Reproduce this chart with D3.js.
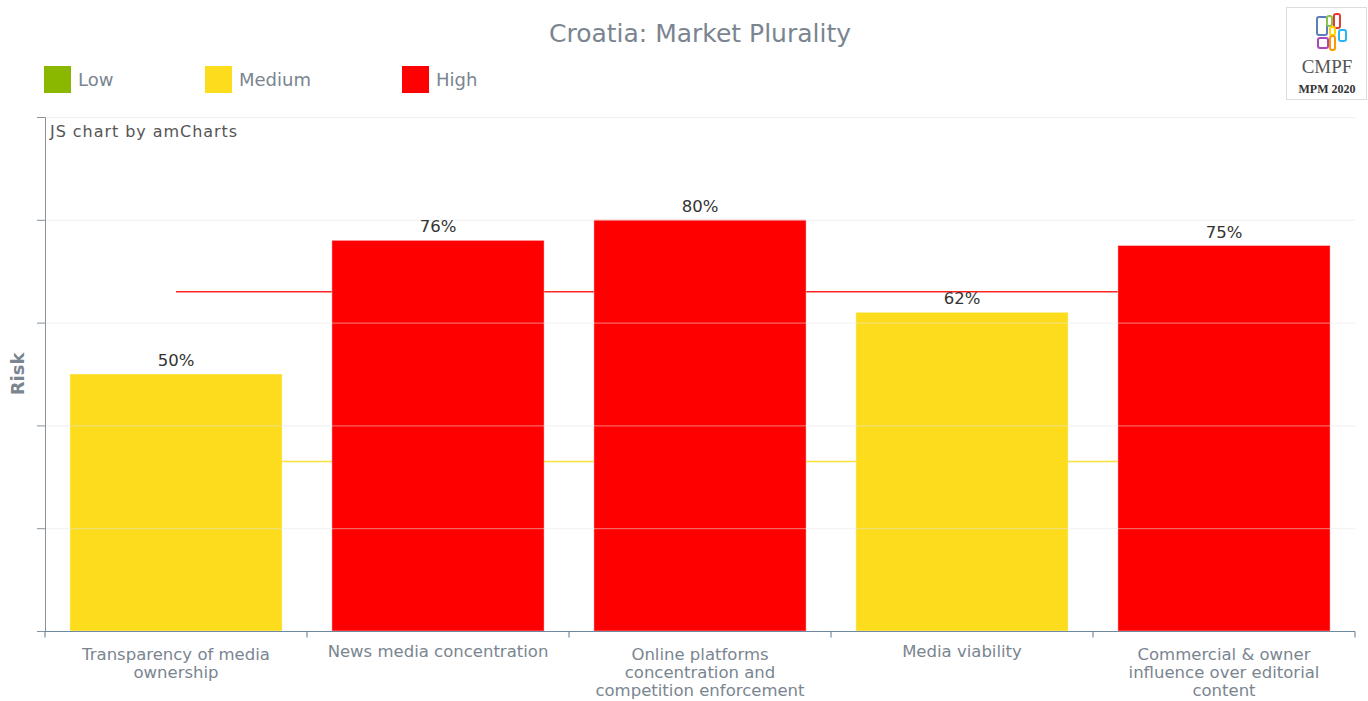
<!DOCTYPE html>
<html><head><meta charset="utf-8">
<script src="https://cdn.jsdelivr.net/npm/d3@7"></script>
<style>body{margin:0;background:#fff;overflow:hidden}</style>
</head><body><svg id="c" width="1368" height="701"></svg>
<script>
const categories = [
  ["Transparency of media", "ownership"],
  ["News media concentration"],
  ["Online platforms", "concentration and", "competition enforcement"],
  ["Media viability"],
  ["Commercial & owner", "influence over editorial", "content"]
];
const values = [50, 76, 80, 62, 75];
const levels = ["Medium", "High", "High", "Medium", "High"];
const legendLabels = ["Low", "Medium", "High"];
const thresholds = [{name: "High", value: 66}, {name: "Medium", value: 33}];
const yTicks = [0, 20, 40, 60, 80, 100];

const colors = {Low: "#8ab800", Medium: "#fcdc1c", High: "#ff0000"};
const svg = d3.select("#c");
const M = {l: 45, r: 1355, t: 117, b: 631};
const x = d3.scaleBand().domain(d3.range(values.length)).range([M.l, M.r]).paddingInner(0.19).paddingOuter(0.095);
const xb = d3.scaleBand().domain(d3.range(values.length)).range([M.l, M.r]);
const y = d3.scaleLinear().domain([0, 100]).range([M.b, M.t]);
const gray = "#7a8590";
const F = "DejaVu Sans";

// title
svg.append("text").attr("x", 700).attr("y", 42).attr("text-anchor", "middle")
  .attr("font-family", F).attr("font-size", 25).attr("fill", gray).text("Croatia: Market Plurality");

// legend
const lx = [44, 205, 402];
legendLabels.forEach((l, i) => {
  svg.append("rect").attr("x", lx[i]).attr("y", 66).attr("width", 27).attr("height", 27).attr("fill", colors[l]);
  svg.append("text").attr("x", lx[i] + 34).attr("y", 86).attr("font-family", F).attr("font-size", 18)
    .attr("fill", gray).text(l);
});

// logo
const lg = svg.append("g");
lg.append("rect").attr("x", 1286.5).attr("y", 7.5).attr("width", 80).attr("height", 92).attr("fill", "#fff").attr("stroke", "#ddd");
[["#5b7fb8",1317,17,10,18],["#8bc34a",1327,16,5,10],["#e53935",1334,14,6,14],["#ffd600",1330,27,5,8],["#29b6f6",1339,30,7,11],["#ab47bc",1318,38,10,10],["#ff9800",1330,36,5,14]]
  .forEach(d => lg.append("rect").attr("x", d[1]).attr("y", d[2]).attr("width", d[3]).attr("height", d[4]).attr("rx", 2)
    .attr("fill", "none").attr("stroke", d[0]).attr("stroke-width", 2));
lg.append("text").attr("x", 1327).attr("y", 73).attr("text-anchor", "middle").attr("font-family", "Liberation Serif")
  .attr("font-size", 19).attr("fill", "#555").text("CMPF");
lg.append("text").attr("x", 1327).attr("y", 93).attr("text-anchor", "middle").attr("font-family", "Liberation Serif")
  .attr("font-size", 12).attr("font-weight", "bold").attr("fill", "#333").text("MPM 2020");

// threshold lines (behind bars)
thresholds.forEach(t => {
  svg.append("line").attr("x1", xb(0) + xb.bandwidth() / 2).attr("x2", xb(values.length - 1) + xb.bandwidth() / 2)
    .attr("y1", y(t.value)).attr("y2", y(t.value)).attr("stroke", colors[t.name]).attr("stroke-width", 1.5).attr("opacity", 0.85);
});

// bars
svg.selectAll("rect.bar").data(values).enter().append("rect").attr("class", "bar")
  .attr("x", (d, i) => x(i)).attr("width", x.bandwidth())
  .attr("y", d => y(d)).attr("height", d => y(0) - y(d))
  .attr("fill", (d, i) => colors[levels[i]]).attr("stroke", "#fff").attr("stroke-opacity", 0.4);

// gridlines over bars
svg.selectAll("line.grid").data(yTicks.slice(1)).enter().append("line").attr("class", "grid")
  .attr("x1", M.l).attr("x2", M.r).attr("y1", d => y(d) + 0.5).attr("y2", d => y(d) + 0.5)
  .attr("stroke", "#e6e6e6").attr("stroke-opacity", 0.55);

// value labels
svg.selectAll("text.val").data(values).enter().append("text").attr("class", "val")
  .attr("x", (d, i) => x(i) + x.bandwidth() / 2).attr("y", d => y(d) - 8).attr("text-anchor", "middle")
  .attr("font-family", F).attr("font-size", 16.5).attr("fill", "#333").text(d => d + "%");

// y axis
const ya = svg.append("g").attr("transform", `translate(${M.l},0)`)
  .call(d3.axisLeft(y).tickValues(yTicks).tickSize(8).tickFormat(""));
ya.select(".domain").attr("stroke", "#8a939c");
ya.selectAll(".tick line").attr("stroke", "#8a939c");

// x axis
const xa = svg.append("g").attr("transform", `translate(0,${M.b + 0.5})`);
xa.append("line").attr("x1", M.l).attr("x2", M.r).attr("stroke", "#6f8aa0").attr("stroke-width", 1.2);
const bounds = d3.range(values.length + 1).map(i => i < values.length ? xb(i) : xb(i - 1) + xb.bandwidth());
xa.selectAll("line.t").data(bounds).enter().append("line").attr("class", "t")
  .attr("x1", d => d).attr("x2", d => d).attr("y1", 0).attr("y2", 6).attr("stroke", "#5a7890");

// x labels
categories.forEach((lines, i) => {
  const t = svg.append("text").attr("x", xb(i) + xb.bandwidth() / 2).attr("y", lines.length === 1 ? 657 : 660)
    .attr("text-anchor", "middle").attr("font-family", F).attr("font-size", 16.5).attr("fill", gray);
  lines.forEach((s, j) => t.append("tspan").attr("x", xb(i) + xb.bandwidth() / 2).attr("dy", j ? 18 : 0).text(s));
});

// y label
svg.append("text").attr("transform", "translate(24,374) rotate(-90)").attr("text-anchor", "middle")
  .attr("font-family", F).attr("font-size", 18).attr("font-weight", "bold").attr("fill", gray).text("Risk");

// credit
svg.append("text").attr("x", 50).attr("y", 137).attr("font-family", F).attr("font-size", 16)
  .attr("letter-spacing", 0.95).attr("fill", "#555").text("JS chart by amCharts");
</script></body></html>
